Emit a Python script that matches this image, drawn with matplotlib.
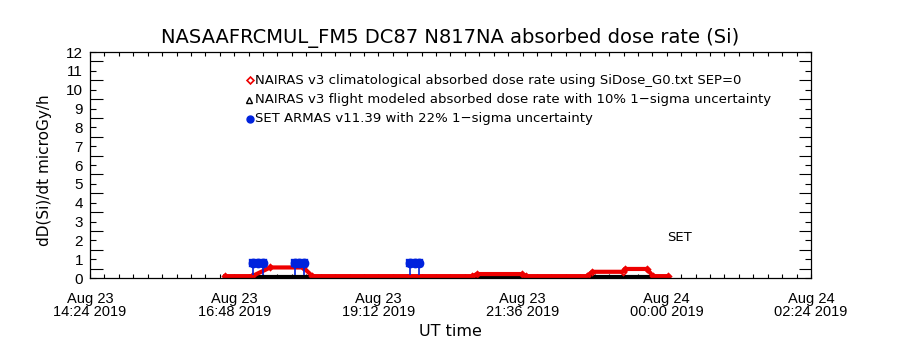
import numpy as np
import pandas as pd
import matplotlib
matplotlib.use('Agg')
import matplotlib.pyplot as plt
from matplotlib.ticker import MultipleLocator

# hours after 2019-08-23 00:00 UT
day0 = pd.Timestamp('2019-08-23')

# NAIRAS climatological (red diamonds)
clim_h = [16.65, 17.10, 17.40, 17.95, 18.10, 20.76, 20.84, 21.59, 21.66,
          22.67, 22.76, 23.27, 23.30, 23.67, 23.77, 24.02]
clim_v = [0.10, 0.10, 0.56, 0.56, 0.10, 0.10, 0.21, 0.21, 0.10,
          0.10, 0.33, 0.33, 0.48, 0.48, 0.10, 0.10]

# NAIRAS flight modeled (black triangles)
model_h = [16.65, 24.02]
model_v = [0.03, 0.03]

# SET ARMAS segments (blue circles)
armas_h = [[17.11, 17.20, 17.28], [17.81, 17.885, 17.96], [19.73, 19.805, 19.88]]
armas_v = [[0.78, 0.78, 0.78], [0.78, 0.78, 0.78], [0.78, 0.78, 0.78]]
armas_low = 0.16

title = 'NASAAFRCMUL_FM5 DC87 N817NA absorbed dose rate (Si)'
legend_labels = ['NAIRAS v3 climatological absorbed dose rate using SiDose_G0.txt SEP=0',
                 'NAIRAS v3 flight modeled absorbed dose rate with 10% 1\u2212sigma uncertainty',
                 'SET ARMAS v11.39 with 22% 1\u2212sigma uncertainty']

narrow = ['Liberation Sans', 'DejaVu Sans']


def to_time(h):
    return day0 + pd.to_timedelta(np.array(h), unit='h')


fig = plt.figure(figsize=(9, 3.5), dpi=100)
ax = fig.add_axes([0.1, 0.2057, 0.8011, 0.6457])

ax.plot(to_time(model_h), model_v, color='black', lw=3, marker='^', ms=4,
        mfc='none', mew=1)
ax.plot(to_time(clim_h), clim_v, color='#ee0000', lw=3, marker='D', ms=3,
        mfc='none', mew=1.2)
for hh, vv in zip(armas_h, armas_v):
    tt = to_time(hh)
    ax.vlines([tt[0], tt[-1]], armas_low, vv[0], color='#0022dd', lw=1.2)
    ax.plot(tt, vv, color='#0022dd', lw=6, marker='o', ms=6)

start = pd.Timestamp('2019-08-23 14:24')
end = pd.Timestamp('2019-08-24 02:24')
ax.set_xlim(start, end)
ax.set_ylim(0, 12)

major = [start + pd.Timedelta(minutes=144 * i) for i in range(6)]
minor = [start + pd.Timedelta(minutes=14.4 * i) for i in range(51)]
ax.set_xticks(major)
ax.set_xticks(minor, minor=True)
ax.set_xticklabels([t.strftime('%b %d\n%H:%M %Y') for t in major],
                   family=narrow, fontsize=10.5, linespacing=0.95)
ax.yaxis.set_minor_locator(MultipleLocator(0.5))
ax.set_yticks(range(13))
ax.set_yticklabels([str(i) for i in range(13)], family=narrow, fontsize=11)

ax.tick_params(axis='x', which='both', direction='in', top=True, bottom=True,
               length=3, width=0.8, pad=10)
ax.tick_params(axis='y', which='major', direction='in', left=True, right=True,
               length=4, width=0.8, pad=5)
ax.tick_params(axis='y', which='minor', direction='in', left=True, right=True,
               length=9, width=0.8)
for s in ax.spines.values():
    s.set_linewidth(0.9)

fig.text(0.5, 0.891, title, ha='center', va='center', fontsize=14)
fig.text(0.5, 0.054, 'UT time', ha='center', va='center', fontsize=11.5)
fig.text(0.05, 0.514, 'dD(Si)/dt microGy/h', ha='center', va='center',
         rotation=90, fontsize=11)

# legend drawn in axes coordinates
leg_y = [0.876, 0.788, 0.704]
ax.plot(0.222, leg_y[0], marker='D', ms=3.5, mfc='none', mec='#ee0000', mew=1.2,
        transform=ax.transAxes, clip_on=False)
ax.plot(0.221, leg_y[1], marker='^', ms=4.5, mfc='none', mec='black', mew=1,
        transform=ax.transAxes, clip_on=False)
ax.plot(0.222, leg_y[2], marker='o', ms=5, color='#0022dd',
        transform=ax.transAxes, clip_on=False)
for y, lab in zip(leg_y, legend_labels):
    ax.text(0.229, y, lab, transform=ax.transAxes, va='center', ha='left',
            fontsize=9.5)

ax.text(0.818, 0.181, 'SET', transform=ax.transAxes, ha='center', va='center',
        fontsize=9.5)

fig.savefig('out.png', dpi=100)
